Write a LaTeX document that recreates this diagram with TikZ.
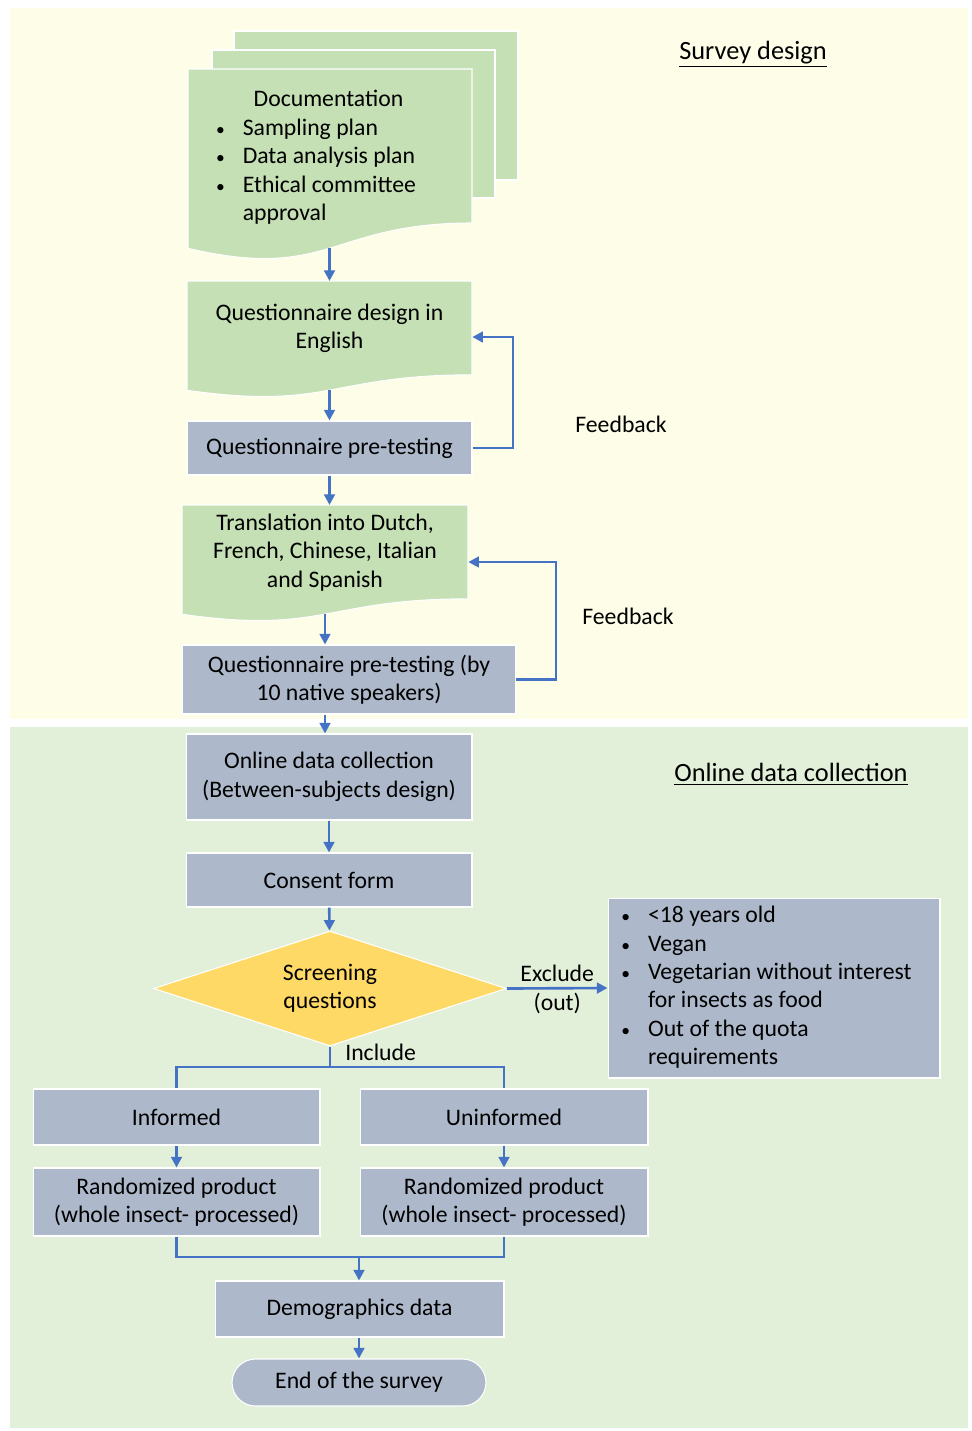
\documentclass[tikz,border=0pt]{standalone}
\usepackage{fontspec}
\setmainfont{Carlito}
\usetikzlibrary{arrows.meta,positioning,shapes.geometric,calc}
\definecolor{yellowbg}{RGB}{254,253,232}
\definecolor{greenbg}{RGB}{226,239,217}
\definecolor{docgreen}{RGB}{197,224,180}
\definecolor{boxgray}{RGB}{173,185,202}
\definecolor{screenyellow}{RGB}{255,217,102}
\definecolor{flowblue}{RGB}{68,114,196}
% wavy document sheet: x1, x2, top, height
\newcommand{\docsheet}[4]{%
  \filldraw[fill=docgreen,draw=white,line width=0.6pt] (#1,#3) -- (#2,#3) -- (#2,{#3+0.802*#4})
    .. controls ({(#1+#2)/2},{#3+0.802*#4}) and ({(#1+#2)/2},{#3+1.107*#4}) .. (#1,{#3+0.934*#4}) -- cycle;}
\newcommand{\bul}{{\fontsize{10}{10}\selectfont\textbullet}}

\begin{document}
\begin{tikzpicture}[x=0.02cm,y=-0.02cm,
  font=\fontsize{13.5}{16.2}\selectfont,
  box/.style={rectangle,fill=boxgray,draw=white,line width=0.6pt,align=center,inner sep=2pt},
  doctext/.style={align=center,inner sep=0pt},
  title/.style={font=\fontsize{15}{18}\selectfont},
  flow/.style={-{Triangle[length=6pt,width=6pt]},flowblue,line width=1.5pt},
  link/.style={flowblue,line width=1.5pt},
  lbl/.style={text=black}]
  \useasboundingbox (0,0) rectangle (971,1431);
  \fill[white] (0,0) rectangle (971,1431);
  \fill[yellowbg] (10,8) rectangle (968,719);
  \fill[greenbg] (10,727) rectangle (968,1428);

  % survey design
  \node[title] (title1) at (753,54) {\underline{Survey design}};
  \filldraw[fill=docgreen,draw=white,line width=0.6pt] (234,31) rectangle (518,180);
  \filldraw[fill=docgreen,draw=white,line width=0.6pt] (212,50) rectangle (495,198);
  \docsheet{188}{472}{69}{192}
  \node[doctext] (docs) at (316,158) {\begin{tabular}{@{}l@{\hspace{0.36cm}}l@{}}
    \multicolumn{2}{@{}c@{}}{\hspace{0.5cm}Documentation}\\
    \bul & Sampling plan\\
    \bul & Data analysis plan\\
    \bul & Ethical committee\\
     & approval
  \end{tabular}};
  \coordinate (docs-b) at (329.5,248);

  \docsheet{187}{472}{281}{117}
  \node[doctext,anchor=north,minimum width=5.7cm,minimum height=1.877cm] (design) at (329.5,281)
    {Questionnaire design in\\English};
  \coordinate (design-b) at (329.5,390);
  \node[box,minimum width=5.7cm,minimum height=1.08cm] (pretest) at (329.5,448) {Questionnaire pre-testing};

  \docsheet{182}{468}{505}{117}
  \node[doctext,anchor=north,minimum width=5.72cm,minimum height=1.877cm] (translate) at (325,505)
    {Translation into Dutch,\\French, Chinese, Italian\\and Spanish};
  \coordinate (translate-b) at (325,614);
  \node[box,minimum width=6.68cm,minimum height=1.38cm] (native) at (349,679.5)
    {Questionnaire pre-testing (by\\10 native speakers)};

  \coordinate (fb1) at (513,337);
  \coordinate (fb2) at (556,562);
  \node (feed1) at (621,424) {Feedback};
  \node (feed2) at (628,616) {Feedback};

  % online data collection
  \node[title] (title2) at (791,774) {\underline{Online data collection}};
  \node[box,minimum width=5.72cm,minimum height=1.72cm] (online) at (329,777)
    {Online data collection\\(Between-subjects design)};
  \node[box,minimum width=5.72cm,minimum height=1.08cm] (consent) at (329,880) {Consent form};
  \node[diamond,aspect=3,inner sep=0pt,fill=screenyellow,draw=white,line width=0.6pt,
    minimum width=7.06cm,minimum height=2.3cm,align=center] (screen) at (330,988.5)
    {Screening\\questions};
  \node[box,minimum width=6.64cm,minimum height=3.6cm] (exclude) at (774,988)
    {\begin{tabular}{@{}l@{\hspace{0.36cm}}l@{}}
    \bul & <18 years old\\
    \bul & Vegan\\
    \bul & Vegetarian without interest\\
     & for insects as food\\
    \bul & Out of the quota\\
     & requirements
  \end{tabular}\hspace*{0.3cm}};
  \node[box,minimum width=5.74cm,minimum height=1.12cm] (informed) at (176.5,1117) {Informed};
  \node[box,minimum width=5.76cm,minimum height=1.12cm] (uninformed) at (504,1117) {Uninformed};
  \node[box,minimum width=5.74cm,minimum height=1.36cm] (rand1) at (176.5,1202)
    {Randomized product\\(whole insect- processed)};
  \node[box,minimum width=5.76cm,minimum height=1.36cm] (rand2) at (504,1202)
    {Randomized product\\(whole insect- processed)};
  \node[box,minimum width=5.78cm,minimum height=1.12cm] (demo) at (359.5,1309) {Demographics data};
  \node[box,rounded corners=0.47cm,minimum width=5.08cm,minimum height=0.94cm] (end) at (359,1382.5)
    {End of the survey};
  \coordinate (inc) at (330,1067);
  \coordinate (merge) at (359,1257);

  % connectors
  \draw[flow] (docs-b) -- (docs-b |- design.north);
  \draw[flow] (design-b) -- (pretest.north);
  \draw[flow] (pretest.east) -| (fb1) -- (design.east |- fb1);
  \draw[flow] (pretest.south) -- (pretest.south |- translate.north);
  \draw[flow] (translate-b) -- (translate-b |- native.north);
  \draw[flow] (native.east) -| (fb2) -- (translate.east |- fb2);
  \draw[flow] (translate-b |- native.south) -- (translate-b |- online.north);
  \draw[flow] (online) -- (consent);
  \draw[flow] (consent) -- (screen);
  \draw[flow] (screen.east) -- node[lbl,above,inner sep=3pt]{Exclude} node[lbl,below,inner sep=2pt]{(out)} (exclude.west);
  \draw[link] (screen.south) -- node[lbl,right,inner sep=0pt,xshift=0.28cm,yshift=2.5pt]{Include} (inc);
  \draw[link] (informed.north) |- (inc) -| (uninformed.north);
  \draw[flow] (informed) -- (rand1);
  \draw[flow] (uninformed) -- (rand2);
  \draw[link] (rand1.south) |- (merge) -| (rand2.south);
  \draw[flow] (merge) -- (merge |- demo.north);
  \draw[flow] (demo.south -| merge) -- (merge |- end.north);
\end{tikzpicture}
\end{document}
